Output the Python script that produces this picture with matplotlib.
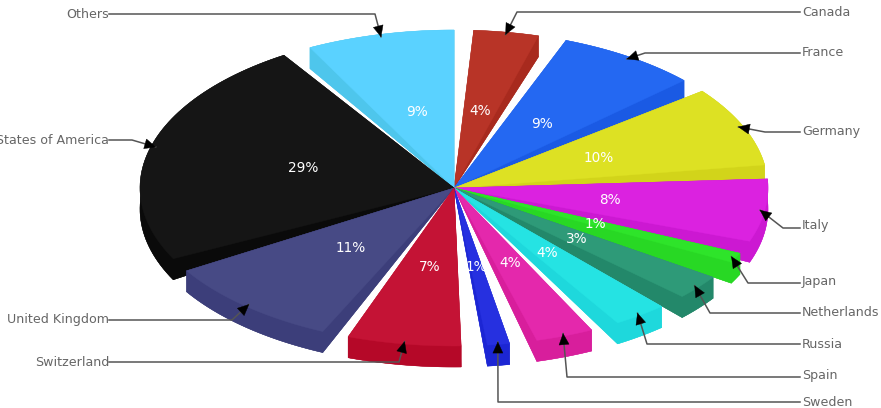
import numpy as np
import matplotlib
matplotlib.use("Agg")
import matplotlib.pyplot as plt
from matplotlib.patches import Polygon

# ── Data ──────────────────────────────────────────────────────────
countries = ["Canada", "France", "Germany", "Italy", "Japan", "Netherlands", "Russia",
             "Spain", "Sweden", "Switzerland", "United Kingdom",
             "United States of America", "Others"]
# slice sweeps and the gap before each slice, in degrees
slice_deg = [12.0, 26.2, 29.4, 23.0, 3.6, 9.0, 10.0, 10.7, 4.1, 21.0, 33.7, 83.8, 27.3]
gap_deg = [3.6, 5.3, 5.1, 5.1, 4.7, 6.4, 5.2, 5.4, 5.1, 4.8, 5.0, 5.0, 5.5]
pct_labels = ["4%", "9%", "10%", "8%", "1%", "3%", "4%", "4%", "1%", "7%", "11%", "29%", "9%"]
top_colors = ["#b83427", "#2468f2", "#dde123", "#db22e0", "#2ee42a", "#2e9a78", "#25e3e3",
              "#e428ac", "#2630e0", "#c41335", "#474a85", "#151515", "#5ad2ff"]
side_colors = ["#a82a1e", "#1a5ae4", "#d2d41a", "#cc18d2", "#28d824", "#23886a", "#1ed8dc",
               "#d81e9c", "#1c26d4", "#b50828", "#3c3e7a", "#0a0a0a", "#4ec6ec"]

# leader lines: y of the label and x where the line bends
label_y = [12, 53, 131, 226, 281, 313, 344, 376, 403, 363, 319, 140, 14]
line_y = [12, 53, 132, 228, 283, 313, 344, 377, 402, 362, 320, 140, 14]
elbow_x = [517, 645, 765, 783, 748, 710, 647, 567, 498, 399, 232, 132, 375]
left_side = ["Switzerland", "United Kingdom", "United States of America", "Others"]

# ── Geometry of the pie ───────────────────────────────────────────
CX, CY = 454, 188
RX, RY = 314, 158
DEPTH = 21

fig = plt.figure(figsize=(8.81, 4.08), dpi=100)
ax = fig.add_axes([0, 0, 1, 1])
ax.set_xlim(0, 881)
ax.set_ylim(408, 0)
ax.axis("off")


def ell(deg, frac=1.0):
    a = np.radians(deg)
    return CX + RX * frac * np.sin(a), CY - RY * frac * np.cos(a)


spans = np.array(slice_deg)
starts = np.cumsum(gap_deg) + np.concatenate([[0], np.cumsum(spans)[:-1]])
mids = starts + spans / 2

# back to front: clockwise on the right, then the left side from the top down
draw_order = list(range(9)) + [12, 11, 10, 9]

for i in draw_order:
    t = np.linspace(starts[i], starts[i] + spans[i], 60)
    x, y = ell(t)
    apex = [(CX, CY)]
    top = list(zip(x, y))
    low = list(zip(x, y + DEPTH))
    side = dict(fc=side_colors[i], ec=side_colors[i], lw=0.3, zorder=2)
    # tapered bottom wedge, both cut faces and the outer wall, then the top face
    ax.add_patch(Polygon(apex + low, **side))
    ax.add_patch(Polygon(apex + [top[0], low[0]], **side))
    ax.add_patch(Polygon(apex + [top[-1], low[-1]], **side))
    ax.add_patch(Polygon(top + low[::-1], **side))
    ax.add_patch(Polygon(apex + top, fc=top_colors[i], ec=top_colors[i], lw=0.3, zorder=2))

for i, name in enumerate(countries):
    # percent on the slice
    px, py = ell(mids[i], 0.5)
    ax.text(px + 0.5, py + 1, pct_labels[i], color="white", fontsize=9.8, ha="center", va="center", zorder=5)

    # leader line and arrow head
    tx, ty = ell(mids[i], 0.985)
    is_left = name in left_side
    lx = 109 if is_left else 800
    ax.plot([lx, elbow_x[i], tx], [line_y[i], line_y[i], ty], color="#555555", lw=1.1, zorder=3,
            solid_joinstyle="round")
    d = np.array([tx - elbow_x[i], ty - line_y[i]])
    d = d / np.hypot(*d)
    n = np.array([-d[1], d[0]])
    tip = np.array([tx, ty])
    base = tip - d * 11
    ax.add_patch(Polygon([tip, base + n * 5, base - n * 5], fc="black", ec="black", lw=0.3, zorder=4))

    # country name
    if is_left:
        ax.text(109, label_y[i], name, color="#666666", fontsize=9.05, ha="right", va="center", zorder=5)
    else:
        ax.text(802, label_y[i], name, color="#666666", fontsize=9.05, ha="left", va="center", zorder=5)

fig.savefig("out.png", dpi=100)
